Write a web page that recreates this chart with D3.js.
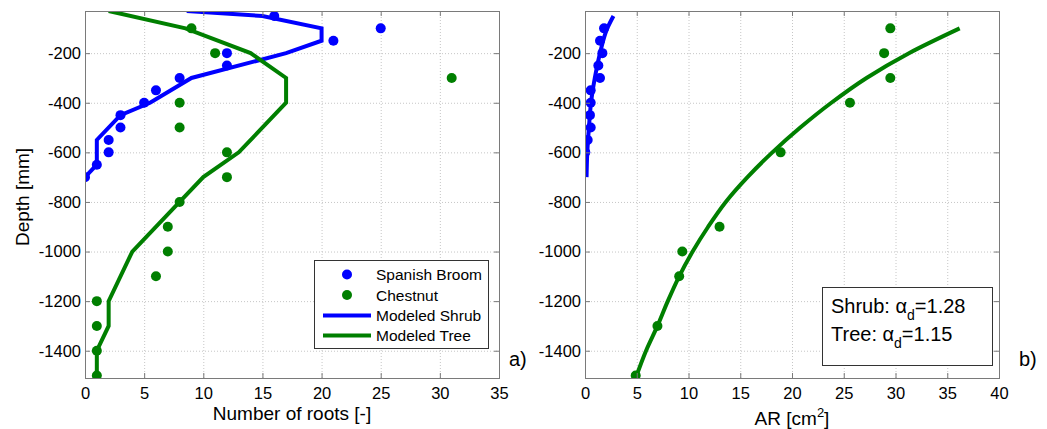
<!DOCTYPE html>
<html lang="en">
<head>
<meta charset="utf-8">
<title>Root distribution with depth</title>
<script src="https://cdn.jsdelivr.net/npm/d3@7"></script>
<style>
    body { margin: 0; background: #fff; }
    text { font-family: "Liberation Sans", Arial, sans-serif; fill: #000; }
    .grid line { stroke: #c6c6c6; stroke-dasharray: 1, 2; }
    .ticks line { stroke: #7a7a7a; }
</style>
</head>
<body>
<div id="chart"></div>
<script>
    // ---- panel a) number of roots vs depth ----
    const broomDepth = [-50, -100, -150, -200, -250, -300, -350, -400, -450, -500, -550, -600, -650, -700];
    const broomRoots = [16, 25, 21, 12, 12, 8, 6, 5, 3, 3, 2, 2, 1, 0];

    const chestnutDepth = [-100, -200, -300, -400, -500, -600, -700, -800, -900, -1000, -1100, -1200, -1300, -1400, -1500];
    const chestnutRoots = [9, 11, 31, 8, 8, 12, 12, 8, 7, 7, 6, 1, 1, 1, 1];

    const shrubModelDepth = [-30, -50, -100, -150, -200, -300, -400, -450, -550, -650, -700];
    const shrubModelRoots = [8.6, 15, 20, 20, 17, 9, 5.5, 3, 1, 1, 0];

    const treeModelDepth = [-30, -100, -200, -300, -400, -600, -700, -800, -1000, -1200, -1300, -1400, -1510];
    const treeModelRoots = [2, 8.5, 14, 17, 17, 13, 10, 8, 4, 2, 2, 1, 1];

    // ---- panel b) root area ratio vs depth ----
    const broomArDepth = [-100, -150, -200, -250, -300, -350, -400, -450, -500, -550, -600];
    const broomAr = [1.84, 1.45, 1.68, 1.29, 1.45, 0.55, 0.55, 0.48, 0.55, 0.26, 0.03];

    const chestnutArDepth = [-100, -200, -300, -400, -600, -900, -1000, -1100, -1300, -1500];
    const chestnutAr = [29.5, 28.9, 29.5, 25.6, 18.9, 13.0, 9.4, 9.1, 7.0, 4.9];

    const shrubArDepth = [-700, -600, -500, -400, -300, -200, -100, -50];
    const shrubAr = [0.15, 0.22, 0.38, 0.58, 0.95, 1.45, 2.15, 2.75];

    const treeArDepth = [-1510, -1400, -1300, -1200, -1100, -1000, -900, -800, -700, -600, -500, -400, -300, -200, -100];
    const treeAr = [4.9, 5.9, 7.0, 8.0, 9.1, 10.4, 11.9, 13.6, 15.7, 18.1, 20.8, 23.8, 27.2, 31.3, 36.2];

    // axis ticks
    const depthTicks = [-1400, -1200, -1000, -800, -600, -400, -200];
    const rootTicks = [0, 5, 10, 15, 20, 25, 30, 35];
    const arTicks = [0, 5, 10, 15, 20, 25, 30, 35, 40];

    const blue = "#0000ff", green = "#007f00";
    const W = 1047, H = 429;
    const plotTop = 11, plotBottom = 378, plotW = 414;

    const svg = d3.select("#chart").append("svg")
        .attr("width", W).attr("height", H)
        .style("display", "block");
    svg.append("rect").attr("width", W).attr("height", H).attr("fill", "#fff");

    const y = d3.scaleLinear().domain([-1510, -30]).range([plotBottom, plotTop]);

    const zip = (xs, ys) => xs.map((v, i) => [v, ys[i]]);

    function panel(id, left, xMax, xTicks) {
        const x = d3.scaleLinear().domain([0, xMax]).range([left, left + plotW]);
        const g = svg.append("g");

        // dotted grid
        g.append("g").attr("class", "grid")
            .attr("transform", `translate(0,${plotBottom})`)
            .call(d3.axisBottom(x).tickValues(xTicks).tickSize(-(plotBottom - plotTop)).tickFormat(""))
            .call(a => a.select(".domain").remove());
        g.append("g").attr("class", "grid")
            .attr("transform", `translate(${left},0)`)
            .call(d3.axisLeft(y).tickValues(depthTicks).tickSize(-plotW).tickFormat(""))
            .call(a => a.select(".domain").remove());

        svg.append("clipPath").attr("id", "clip-" + id)
            .append("rect").attr("x", left).attr("y", plotTop)
            .attr("width", plotW).attr("height", plotBottom - plotTop);
        const plot = g.append("g").attr("clip-path", `url(#clip-${id})`);

        // axis box
        g.append("rect").attr("x", left + 0.5).attr("y", plotTop + 0.5)
            .attr("width", plotW).attr("height", plotBottom - plotTop)
            .attr("fill", "none").attr("stroke", "#7a7a7a");

        // inward ticks on all sides + labels
        const tk = 5;
        g.append("g").attr("class", "ticks").attr("transform", `translate(0,${plotBottom})`)
            .call(d3.axisBottom(x).tickValues(xTicks).tickSizeInner(-tk).tickSizeOuter(0).tickPadding(9))
            .call(a => a.select(".domain").remove())
            .call(a => a.selectAll("text").attr("font-size", 16.5));
        g.append("g").attr("class", "ticks").attr("transform", `translate(0,${plotTop})`)
            .call(d3.axisTop(x).tickValues(xTicks).tickSizeInner(-tk).tickSizeOuter(0).tickFormat(""))
            .call(a => a.select(".domain").remove());
        g.append("g").attr("class", "ticks").attr("transform", `translate(${left},0)`)
            .call(d3.axisLeft(y).tickValues(depthTicks).tickSizeInner(-tk).tickSizeOuter(0).tickPadding(4)
                .tickFormat(d => String(d)))
            .call(a => a.select(".domain").remove())
            .call(a => a.selectAll("text").attr("font-size", 16.5));
        g.append("g").attr("class", "ticks").attr("transform", `translate(${left + plotW},0)`)
            .call(d3.axisRight(y).tickValues(depthTicks).tickSizeInner(-tk).tickSizeOuter(0).tickFormat(""))
            .call(a => a.select(".domain").remove());
        g.selectAll("text").attr("fill", "#000").style("font-family", '"Liberation Sans", Arial, sans-serif');

        return { x, plot, g };
    }

    function dots(p, xs, ys, color) {
        p.plot.append("g").selectAll("circle")
            .data(zip(xs, ys))
            .join("circle")
            .attr("cx", d => p.x(d[0]))
            .attr("cy", d => y(d[1]))
            .attr("r", 5)
            .attr("fill", color);
    }

    function line(p, xs, ys, color, curve) {
        p.plot.append("path")
            .datum(zip(xs, ys))
            .attr("fill", "none")
            .attr("stroke", color)
            .attr("stroke-width", 4)
            .attr("stroke-linejoin", "miter")
            .attr("d", d3.line().x(d => p.x(d[0])).y(d => y(d[1])).curve(curve || d3.curveLinear));
    }

    // ---- panel a ----
    const pa = panel("a", 85, 35, rootTicks);
    dots(pa, broomRoots, broomDepth, blue);
    dots(pa, chestnutRoots, chestnutDepth, green);
    line(pa, shrubModelRoots, shrubModelDepth, blue);
    line(pa, treeModelRoots, treeModelDepth, green);

    // ---- panel b ----
    const pb = panel("b", 585, 40, arTicks);
    dots(pb, broomAr, broomArDepth, blue);
    dots(pb, chestnutAr, chestnutArDepth, green);
    line(pb, shrubAr, shrubArDepth, blue, d3.curveMonotoneY);
    line(pb, treeAr, treeArDepth, green, d3.curveMonotoneY);

    // axis titles
    svg.append("text").attr("x", 292).attr("y", 420)
        .attr("text-anchor", "middle").attr("font-size", 19)
        .text("Number of roots [-]");
    const arLabel = svg.append("text").attr("x", 792).attr("y", 425)
        .attr("text-anchor", "middle").attr("font-size", 19);
    arLabel.append("tspan").text("AR [cm");
    arLabel.append("tspan").attr("font-size", 13).attr("dy", -8).text("2");
    arLabel.append("tspan").attr("dy", 8).text("]");
    svg.append("text")
        .attr("transform", "translate(29,197) rotate(-90)")
        .attr("text-anchor", "middle").attr("font-size", 19)
        .text("Depth [mm]");

    // panel tags
    svg.append("text").attr("x", 509).attr("y", 366).attr("font-size", 20).text("a)");
    svg.append("text").attr("x", 1019).attr("y", 366).attr("font-size", 20).text("b)");

    // legend (panel a)
    const legend = svg.append("g");
    legend.append("rect").attr("x", 314.5).attr("y", 260.5).attr("width", 174).attr("height", 88)
        .attr("fill", "#fff").attr("stroke", "#333");
    const legendItems = [
        { name: "Spanish Broom", color: blue, type: "dot" },
        { name: "Chestnut", color: green, type: "dot" },
        { name: "Modeled Shrub", color: blue, type: "line" },
        { name: "Modeled Tree", color: green, type: "line" }
    ];
    const rowY = [274.5, 295, 315.5, 335.5];
    legendItems.forEach((d, i) => {
        if (d.type === "dot") {
            legend.append("circle").attr("cx", 347).attr("cy", rowY[i]).attr("r", 5).attr("fill", d.color);
        } else {
            legend.append("line").attr("x1", 323).attr("x2", 371).attr("y1", rowY[i]).attr("y2", rowY[i])
                .attr("stroke", d.color).attr("stroke-width", 4);
        }
        legend.append("text").attr("x", 376).attr("y", rowY[i] + 5.5)
            .attr("font-size", 15.5).text(d.name);
    });

    // alpha_d annotation (panel b)
    const note = svg.append("g");
    note.append("rect").attr("x", 822.5).attr("y", 287.5).attr("width", 170).attr("height", 78)
        .attr("fill", "#fff").attr("stroke", "#333");
    const noteLines = [["Shrub: ", "1.28"], ["Tree: ", "1.15"]];
    noteLines.forEach((d, i) => {
        const t = note.append("text").attr("x", 831).attr("y", 313 + i * 27.5).attr("font-size", 20);
        t.append("tspan").text(d[0] + "\u03b1");
        t.append("tspan").attr("font-size", 14).attr("dy", 7).text("d");
        t.append("tspan").attr("dy", -7).text("=" + d[1]);
    });
</script>
</body>
</html>
